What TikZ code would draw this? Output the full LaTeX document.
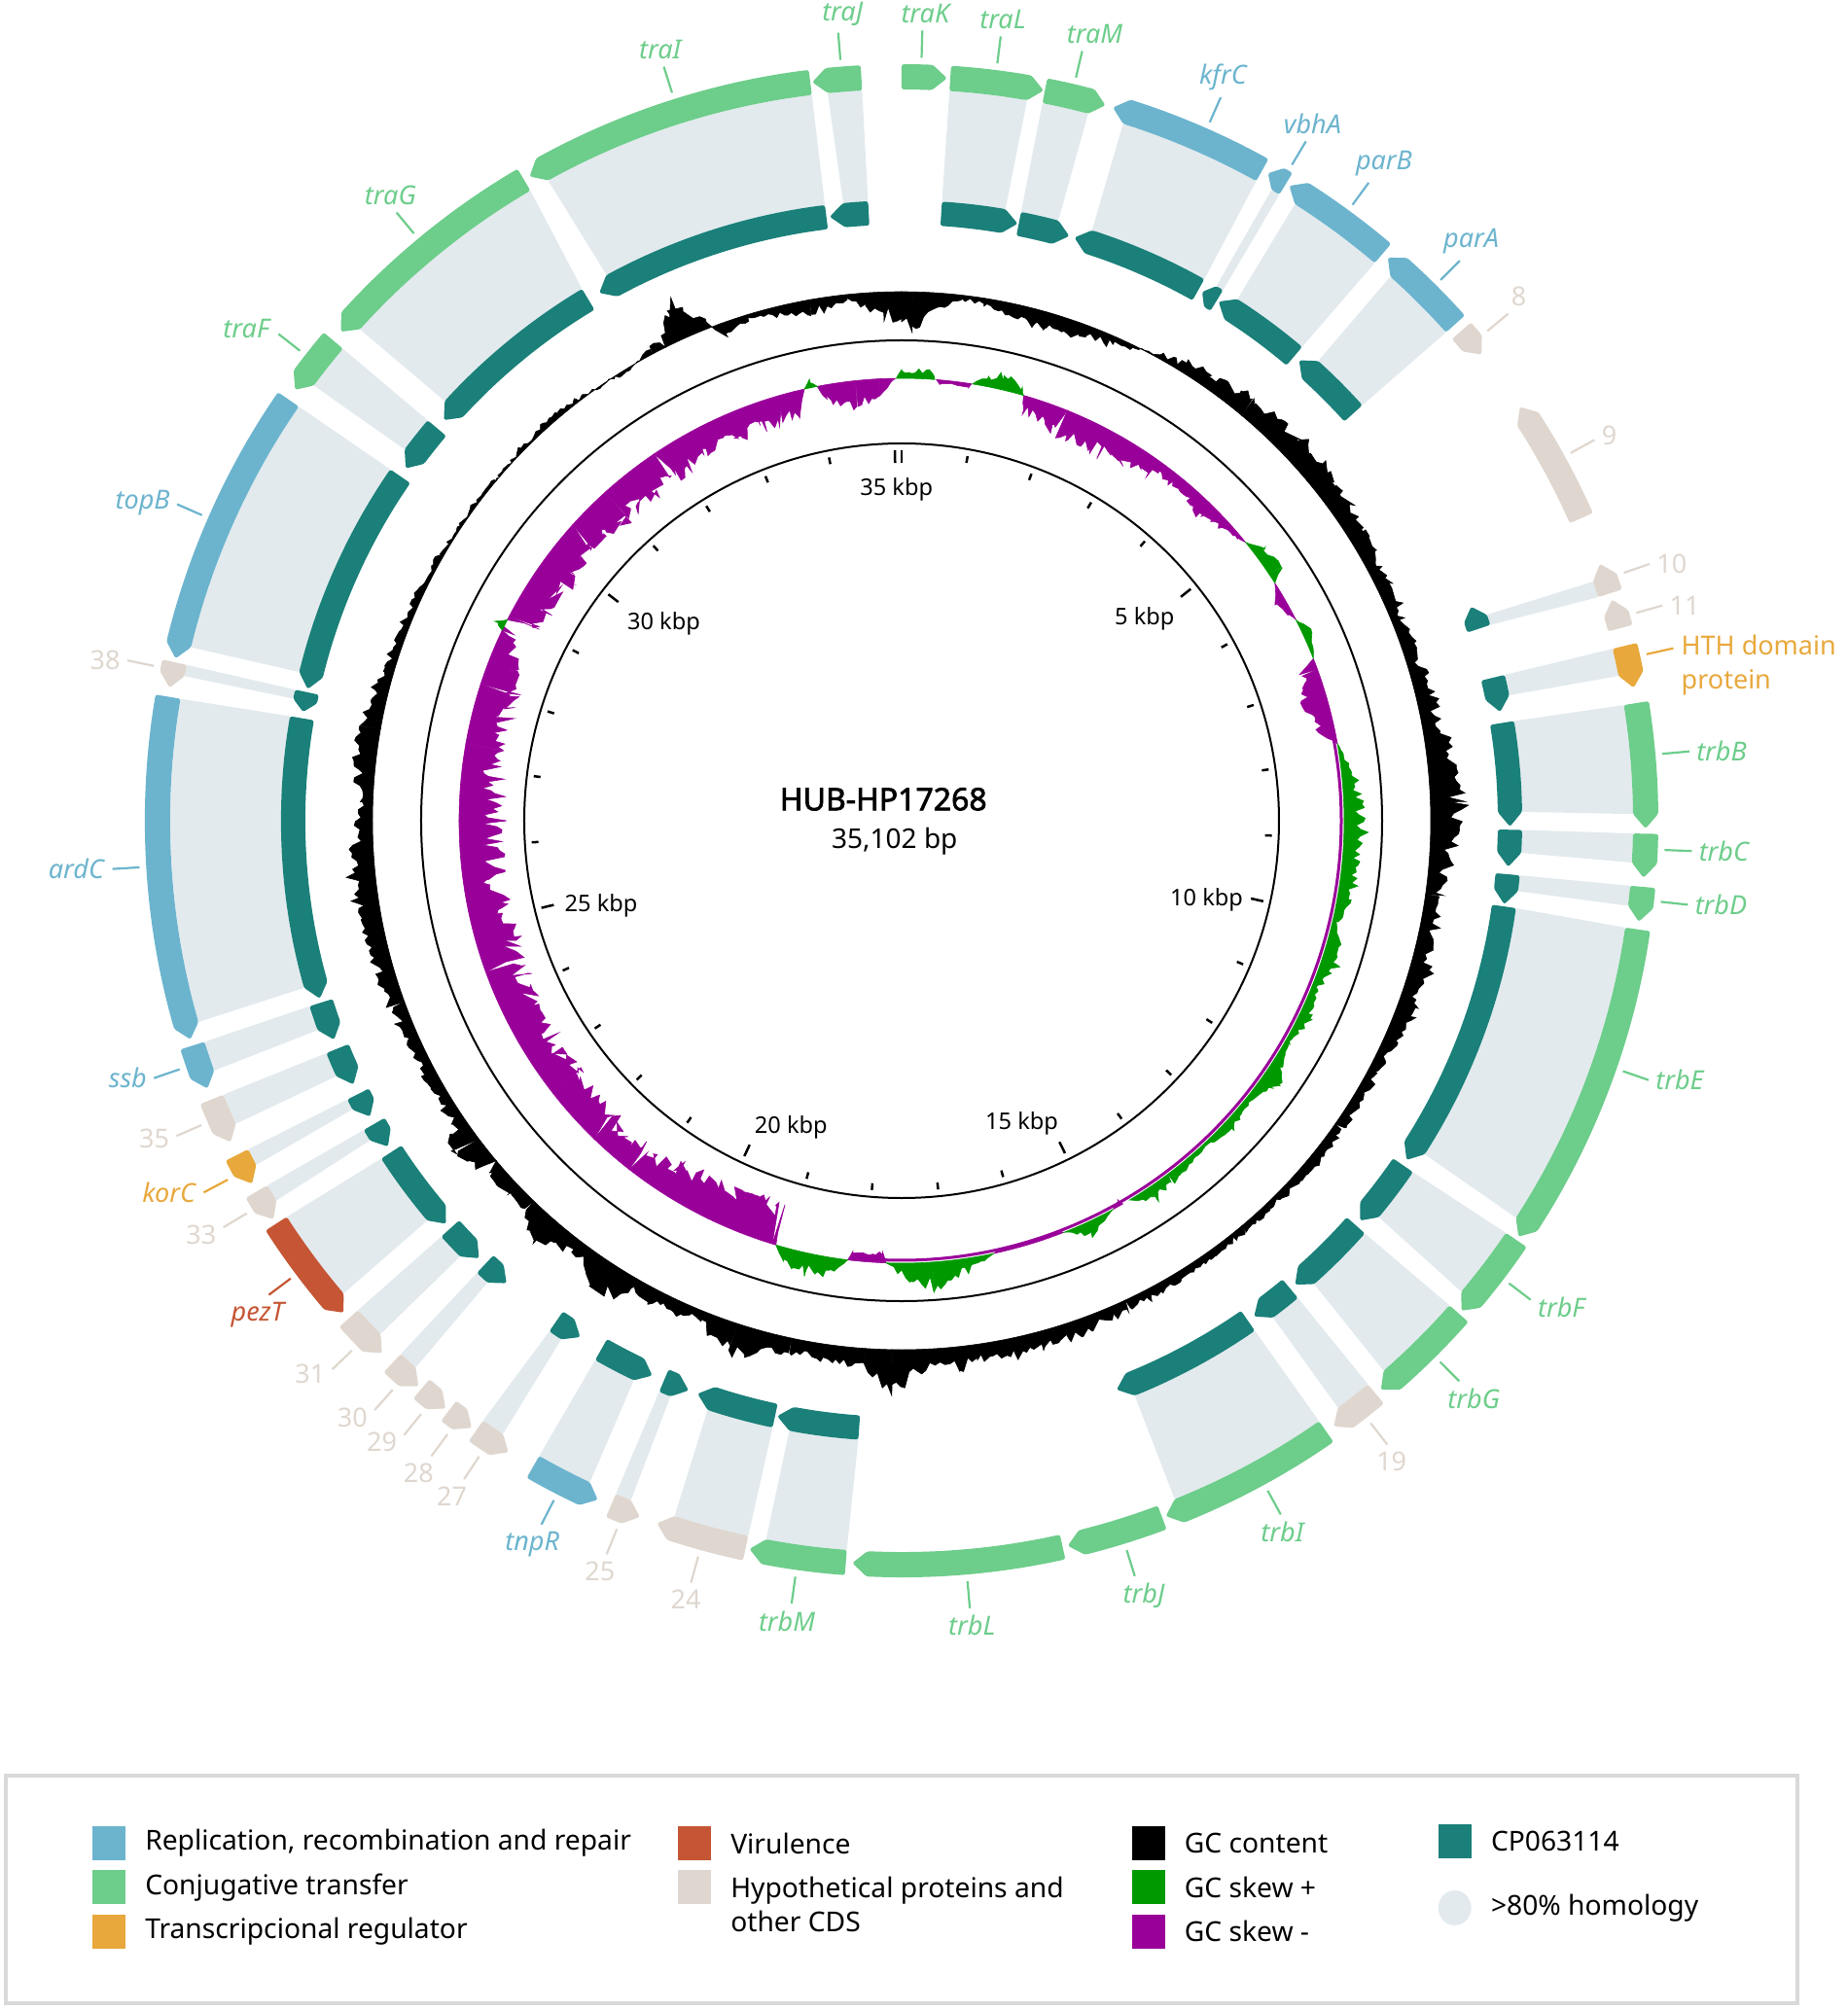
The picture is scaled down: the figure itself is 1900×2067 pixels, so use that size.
\documentclass[tikz,border=0pt]{standalone}
\usepackage{fontspec}
\setmainfont{Noto Sans}[AutoFakeBold=2.2]
\usetikzlibrary{positioning, shapes.geometric}

\definecolor{repblue}{RGB}{108,180,206}
\definecolor{conjgreen}{RGB}{109,205,139}
\definecolor{tregorange}{RGB}{232,168,60}
\definecolor{virred}{RGB}{197,85,52}
\definecolor{hypbeige}{RGB}{223,215,207}
\definecolor{cpteal}{RGB}{26,128,121}
\definecolor{homolgray}{RGB}{226,234,238}
\definecolor{skewpos}{RGB}{0,153,0}
\definecolor{skewneg}{RGB}{153,0,153}
\definecolor{legendframe}{RGB}{217,217,217}

\newcommand{\unitpt}{0.5pt}
% one arrow on a ring: colour, start, end, inner r, outer r, direction
\newcommand{\arcgene}[6]{%
  \pgfmathsetmacro\gmid{(#4+#5)/2}%
  \pgfmathsetmacro\ghead{min(15/\gmid*57.2958,(#3-#2)*0.55)}%
  \ifnum#6>0
    \pgfmathsetmacro\gcut{#3-\ghead}%
    \fill[#1, rounded corners=1.2pt] ({90-#2}:#5) arc[start angle={90-#2}, end angle={90-\gcut}, radius={#5*\unitpt}]
      -- ({90-#3}:\gmid) -- ({90-\gcut}:#4) arc[start angle={90-\gcut}, end angle={90-#2}, radius={#4*\unitpt}] -- cycle;
  \else
    \pgfmathsetmacro\gcut{#2+\ghead}%
    \fill[#1, rounded corners=1.2pt] ({90-#2}:\gmid) -- ({90-\gcut}:#5) arc[start angle={90-\gcut}, end angle={90-#3}, radius={#5*\unitpt}]
      -- ({90-#3}:#4) arc[start angle={90-#3}, end angle={90-\gcut}, radius={#4*\unitpt}] -- cycle;
  \fi}
\newcommand{\gene}[4]{\arcgene{#1}{#2}{#3}{752}{778}{#4}}
\newcommand{\cpgene}[3]{\arcgene{cpteal}{#1}{#2}{613}{638}{#3}}
\newcommand{\ribbon}[4]{%
  \fill[homolgray] ({90-#1}:638) -- ({90-#3}:752) arc[start angle={90-#3}, end angle={90-#4}, radius={752*\unitpt}]
    -- ({90-#2}:638) arc[start angle={90-#2}, end angle={90-#1}, radius={638*\unitpt}] -- cycle;}
% label: colour, name, angle, anchor, text
\newcommand{\glabel}[5]{%
  \coordinate (#2-in) at ({90-#3}:785);
  \coordinate (#2-out) at ({90-#3}:813);
  \draw[#1, leader] (#2-in) -- (#2-out);
  \node[#1, lbl, anchor=#4] (#2) at (#2-out) {#5};}
% GC tracks: one piece between two key points a/va and b/vb
\def\gcmul{0.72}\def\gcvar{0.28}\def\gcadd{0}
\newcommand{\gcsegx}[6]{%
  \pgfmathtruncatemacro\gzero{((#2)==0)*((#4)==0)}%
  \ifnum\gzero=0
    \pgfmathtruncatemacro\gns{max(3,((#3)-(#1))*2.5)}%
    \filldraw[#6, line width=0.3pt] ({90-(#1)}:#5) -- plot[domain=#1:#3, samples=\gns, variable=\gx]
      ({90-\gx}:{#5+((#2)+((#4)-(#2))*(\gx-(#1))/((#3)-(#1)))*(\gcmul+\gcvar*(2*rnd-1))+\gcadd*(2*rnd-1)})
      -- ({90-(#3)}:#5) arc[start angle={90-(#3)}, end angle={90-(#1)}, radius={#5*\unitpt}] -- cycle;
  \fi}
\newcommand{\gcchain}[3]{%
  \global\let\gprev\empty
  \foreach \ga/\gv in {#3}{%
    \ifx\gprev\empty\else
      \expandafter\gcsegx\gprev{\ga}{\gv}{#1}{#2}%
    \fi
    \xdef\gprev{{\ga}{\gv}}%
  }}

\begin{document}
\begin{tikzpicture}[x=0.5pt, y=0.5pt,
  tick/.style={line width=1.25pt},
  leader/.style={line width=1.1pt},
  lbl/.style={inner sep=3.5pt, font=\fontsize{13.5}{16}\selectfont},
  kbp/.style={inner sep=0pt, font=\fontsize{11.8}{14}\selectfont},
  swatch/.style={minimum width=17pt, minimum height=17.5pt, inner sep=0pt},
  legtext/.style={inner sep=0pt, align=left, font=\fontsize{14.1}{17.5}\selectfont}]

\useasboundingbox (-927,844) rectangle (973,-1223);

% homology to CP063114
\ribbon{331.6}{352.9}{331.1}{352.95}
\ribbon{354.6}{356.9}{354.2}{356.9}
\ribbon{3.73}{9.63}{3.75}{9.88}
\ribbon{11.1}{14.63}{11.1}{14.78}
\ribbon{17.87}{29.2}{17.62}{29.0}
\ribbon{30.48}{31.2}{30.38}{31.1}
\ribbon{32.77}{40.2}{32.52}{40.3}
\ribbon{42.17}{47.95}{41.92}{48.1}
\ribbon{70.61}{71.6}{70.92}{72.2}
\ribbon{76.4}{78.33}{76.4}{78.58}
\ribbon{80.75}{89.18}{80.9}{89.48}
\ribbon{90.85}{92.98}{91.0}{93.28}
\ribbon{95.05}{96.53}{95.1}{96.68}
\ribbon{98.1}{122.53}{98.4}{122.88}
\ribbon{124.5}{129.73}{124.3}{130.08}
\ribbon{131.7}{138.33}{131.5}{138.78}
\ribbon{140.3}{143.23}{140.4}{143.38}
\ribbon{145.3}{157.93}{145.2}{158.08}
\ribbon{184.0}{190.43}{184.3}{190.68}
\ribbon{192.0}{198.23}{192.1}{198.08}
\ribbon{201.87}{203.0}{201.72}{203.0}
\ribbon{205.57}{209.6}{205.22}{209.7}
\ribbon{213.27}{214.6}{213.02}{214.9}
\ribbon{221.87}{223.2}{221.62}{223.2}
\ribbon{225.37}{227.9}{225.42}{228.0}
\ribbon{229.87}{237.0}{229.72}{237.2}
\ribbon{238.97}{240.1}{238.72}{240.1}
\ribbon{242.27}{243.3}{241.92}{243.3}
\ribbon{245.67}{248.0}{245.52}{248.0}
\ribbon{250.27}{252.6}{250.02}{252.4}
\ribbon{254.37}{279.7}{254.02}{279.6}
\ribbon{281.35}{282.2}{281.4}{282.3}
\ribbon{283.87}{304.5}{283.72}{304.5}
\ribbon{306.77}{310.2}{306.52}{310.2}
\ribbon{312.57}{329.0}{312.22}{329.5}

% CP063114 ring
\cpgene{330.2}{352.9}{-1}
\cpgene{353.2}{356.9}{-1}
\cpgene{3.73}{11.0}{1}
\cpgene{11.1}{16.0}{1}
\cpgene{16.5}{29.2}{-1}
\cpgene{29.6}{31.2}{-1}
\cpgene{31.4}{40.2}{-1}
\cpgene{40.8}{47.95}{-1}
\cpgene{69.4}{71.6}{-1}
\cpgene{76.4}{79.7}{1}
\cpgene{80.75}{90.55}{1}
\cpgene{90.85}{94.35}{1}
\cpgene{95.05}{97.9}{1}
\cpgene{98.1}{123.9}{1}
\cpgene{124.5}{131.1}{1}
\cpgene{131.7}{139.7}{1}
\cpgene{140.3}{144.6}{1}
\cpgene{145.3}{159.3}{1}
\cpgene{184.0}{191.8}{1}
\cpgene{192.0}{199.6}{1}
\cpgene{200.5}{203.0}{-1}
\cpgene{204.2}{209.6}{-1}
\cpgene{211.9}{214.6}{-1}
\cpgene{220.5}{223.2}{-1}
\cpgene{224.0}{227.9}{-1}
\cpgene{228.5}{237.0}{-1}
\cpgene{237.6}{240.1}{-1}
\cpgene{240.9}{243.3}{-1}
\cpgene{244.3}{248.0}{-1}
\cpgene{248.9}{252.6}{-1}
\cpgene{253.0}{279.7}{-1}
\cpgene{280.3}{282.2}{-1}
\cpgene{282.5}{304.5}{-1}
\cpgene{305.4}{310.2}{-1}
\cpgene{311.2}{329.0}{-1}

% HUB-HP17268 genes
\gene{conjgreen}{0.0}{3.5}{1}
\gene{conjgreen}{3.75}{11.0}{1}
\gene{conjgreen}{11.1}{15.9}{1}
\gene{repblue}{16.5}{29.0}{-1}
\gene{repblue}{29.5}{31.1}{-1}
\gene{repblue}{31.4}{40.3}{-1}
\gene{repblue}{40.8}{48.1}{-1}
\gene{hypbeige}{48.8}{51.2}{1}
\gene{hypbeige}{56.2}{66.0}{-1}
\gene{hypbeige}{69.8}{72.2}{-1}
\gene{hypbeige}{72.7}{75.0}{-1}
\gene{tregorange}{76.4}{79.7}{1}
\gene{conjgreen}{80.9}{90.6}{1}
\gene{conjgreen}{91.0}{94.4}{1}
\gene{conjgreen}{95.1}{97.8}{1}
\gene{conjgreen}{98.4}{124.0}{1}
\gene{conjgreen}{124.3}{131.2}{1}
\gene{conjgreen}{131.5}{139.9}{1}
\gene{hypbeige}{140.4}{144.5}{1}
\gene{conjgreen}{145.2}{159.2}{1}
\gene{conjgreen}{159.5}{167.1}{1}
\gene{conjgreen}{167.5}{183.8}{1}
\gene{conjgreen}{184.3}{191.8}{1}
\gene{hypbeige}{192.1}{199.2}{1}
\gene{hypbeige}{200.6}{203.0}{-1}
\gene{repblue}{204.1}{209.7}{-1}
\gene{hypbeige}{211.9}{214.9}{-1}
\gene{hypbeige}{215.3}{217.5}{-1}
\gene{hypbeige}{217.8}{220.2}{-1}
\gene{hypbeige}{220.5}{223.2}{-1}
\gene{hypbeige}{224.3}{228.0}{-1}
\gene{virred}{228.6}{237.2}{-1}
\gene{hypbeige}{237.6}{240.1}{-1}
\gene{tregorange}{240.8}{243.3}{-1}
\gene{hypbeige}{244.4}{248.0}{-1}
\gene{repblue}{248.9}{252.4}{-1}
\gene{repblue}{252.9}{279.6}{-1}
\gene{hypbeige}{280.3}{282.3}{-1}
\gene{repblue}{282.6}{304.5}{-1}
\gene{conjgreen}{305.4}{310.2}{-1}
\gene{conjgreen}{311.1}{329.5}{-1}
\gene{conjgreen}{330.0}{352.95}{-1}
\gene{conjgreen}{353.1}{356.9}{-1}

% GC content
\pgfmathsetseed{4711}
\def\gcmul{0.75}\def\gcvar{0.25}\def\gcadd{3}
\gcchain{544}{black}{0/-38, 1.2/-42, 6.5/-5, 9/-8, 16/-24, 24/-10, 32/14, 40/26, 50/32, 58/22, 68/16, 78/22, 88/38, 98/20, 110/24, 118/12, 125/14, 140/8, 155/12, 165/24, 172/16, 174/30, 177/18, 181/52, 184/22, 192/18, 198/38, 202/14, 210/18, 213/44, 216/16, 219/22, 221/40, 224/14, 230/20, 233/38, 236/16, 250/18, 262/30, 272/18, 280/28, 286/14, 300/6, 310/2, 320/8, 329/-4, 332/10, 333.5/14, 336/48, 338.5/12, 340/-20, 343/-6, 350/-18, 354/-10, 356/-20, 358/-30, 360/-38}
\draw[line width=1pt] (0,0) circle[radius={494*\unitpt}];

% GC skew
\draw[skewneg, line width=1.5pt] ({90-78}:452) arc[start angle=12, end angle=-94, radius={452*\unitpt}];
\def\gcmul{0.72}\def\gcvar{0.28}\def\gcadd{0}
\gcchain{455}{skewneg}{4.5/0, 5/-5, 8.8/-5, 9.1/0, 16/0, 16.5/-20, 22/-34, 30/-32, 35/-24, 36.5/-14, 44/-22, 50/-6, 51/0, 57.5/0, 60/-12, 62/-6, 63/0, 68.5/0, 70/-22, 74/-32, 78/-20, 80/0, 150/0, 150.5/-8, 151.5/0, 158.5/0, 159/-4, 167/-4, 168/0, 182/0, 182.5/-12, 186.5/-12, 187/0, 196.5/0, 197/-46, 206/-48, 212/-42, 218/-34, 224/-38, 232/-44, 240/-40, 250/-48, 262/-44, 270/-50, 280/-44, 288/-46, 293/-30, 295.5/-14, 296/0, 297/0, 297.5/-38, 305/-44, 312/-40, 318/-46, 326/-40, 333/-36, 340/-34, 346/-30, 347.3/0, 349/0, 350/-22, 354/-32, 357/-20, 359.2/0}
\gcchain{455}{skewpos}{0/10, 4/10, 4.3/0, 9.2/0, 11/14, 13/20, 15.5/10, 16/0, 51/0, 53/14, 56/20, 57.5/0, 63/0, 65/14, 68.5/0, 80/0, 84/16, 91/28, 96/18, 100/22, 103/8, 108/22, 112/8, 116/16, 120/6, 125/22, 129/6, 133/14, 137/4, 143/12, 146/18, 149/0, 151.5/0, 155/18, 158.5/0, 168/0, 172/18, 176/32, 179/22, 182/0, 187/0, 189/22, 192/26, 195/18, 196.5/0, 295.5/0, 296.2/12, 297/0, 347.3/0, 348.2/9, 349/0, 359.3/0, 360/10}

% scale
\draw[line width=1pt] (0,0) circle[radius={388*\unitpt}];
\foreach \k in {0,...,35}{
  \pgfmathsetmacro\ta{90-\k*10.25583}
  \pgfmathtruncatemacro\major{mod(\k,5)==0}
  \ifnum\major=1 \draw[tick] (\ta:368) -- (\ta:381); \else \draw[tick] (\ta:374) -- (\ta:381); \fi
}
\foreach \k/\lx/\ly in {35/-5.3/340.7, 5/249.8/207.5, 10/313.6/-81.3, 15/123.5/-311.5, 20/-113.7/-314.9, 25/-308.9/-87.6, 30/-244.5/202.3}
  \node[kbp] (kbp\k) at (\lx,\ly) {\k\ kbp};

\node[font=\bfseries\fontsize{16}{19}\selectfont] (title) at (-18.7,22.1) {HUB-HP17268};
\node[font=\fontsize{14}{17}\selectfont] (size) at (-7.2,-21) {35,102 bp};

% labels
\glabel{conjgreen}{traI}{342.5}{280}{\textit{traI}}
\glabel{conjgreen}{traJ}{355.4}{257}{\textit{traJ}}
\glabel{conjgreen}{traK}{1.5}{256}{\textit{traK}}
\glabel{conjgreen}{traL}{7.2}{263}{\textit{traL}}
\glabel{conjgreen}{traM}{13.2}{233}{\textit{traM}}
\glabel{repblue}{kfrC}{23.8}{262}{\textit{kfrC}}
\glabel{repblue}{vbhA}{30.75}{249}{\textit{vbhA}}
\glabel{repblue}{parB}{36.2}{232}{\textit{parB}}
\glabel{repblue}{parA}{44.9}{240}{\textit{parA}}
\glabel{hypbeige}{g8}{50.1}{238}{8}
\glabel{hypbeige}{g9}{61.2}{197}{9}
\glabel{hypbeige}{g10}{71.05}{180}{10}
\glabel{hypbeige}{g11}{74.2}{180}{11}
\coordinate (hth-in) at ({90-77.4}:785);
\coordinate (hth-out) at ({90-77.4}:813);
\draw[tregorange, leader] (hth-in) -- (hth-out);
\node[tregorange, legtext, font=\fontsize{13.5}{17.5}\selectfont, anchor=west] (hth) at (801.3,159.8) {HTH domain\\protein};
\glabel{conjgreen}{trbB}{84.97}{180}{\textit{trbB}}
\glabel{conjgreen}{trbC}{92.2}{180}{\textit{trbC}}
\glabel{conjgreen}{trbD}{96.1}{180}{\textit{trbD}}
\glabel{conjgreen}{trbE}{109.15}{180}{\textit{trbE}}
\glabel{conjgreen}{trbF}{127.3}{166}{\textit{trbF}}
\glabel{conjgreen}{trbG}{135.15}{130}{\textit{trbG}}
\glabel{hypbeige}{g19}{142.1}{104}{19}
\glabel{conjgreen}{trbI}{151.35}{98}{\textit{trbI}}
\glabel{conjgreen}{trbJ}{162.85}{115}{\textit{trbJ}}
\glabel{conjgreen}{trbL}{175.05}{97}{\textit{trbL}}
\glabel{conjgreen}{trbM}{188.0}{75}{\textit{trbM}}
\glabel{hypbeige}{g24}{195.45}{73}{24}
\glabel{hypbeige}{g25}{201.9}{68}{25}
\glabel{repblue}{tnpR}{207.1}{65}{\textit{tnpR}}
\glabel{hypbeige}{g27}{213.6}{54}{27}
\glabel{hypbeige}{g28}{216.5}{53}{28}
\glabel{hypbeige}{g29}{219.0}{18}{29}
\glabel{hypbeige}{g30}{221.8}{18}{30}
\glabel{hypbeige}{g31}{226.05}{12}{31}
\glabel{virred}{pezT}{233.15}{63}{\textit{pezT}}
\glabel{hypbeige}{g33}{239.05}{18}{33}
\glabel{tregorange}{korC}{241.95}{0}{\textit{korC}}
\glabel{hypbeige}{g35}{246.5}{7}{35}
\glabel{repblue}{ssb}{251.0}{0}{\textit{ssb}}
\glabel{repblue}{ardC}{266.5}{0}{\textit{ardC}}
\glabel{hypbeige}{g38}{281.7}{0}{38}
\glabel{repblue}{topB}{293.6}{358}{\textit{topB}}
\glabel{conjgreen}{traF}{308.0}{350}{\textit{traF}}
\glabel{conjgreen}{traG}{320.3}{290}{\textit{traG}}

% legend
\draw[legendframe, line width=2pt] (-921,-982) rectangle (921,-1216);
\node[swatch, fill=repblue] (swrep) at (-815,-1051.5) {};
\node[swatch, fill=conjgreen, below=4.75pt of swrep] (swconj) {};
\node[swatch, fill=tregorange, below=4.75pt of swconj] (swtreg) {};
\node[legtext, right=9.75pt of swrep] (txrep) {Replication, recombination and repair};
\node[legtext, right=9.75pt of swconj] (txconj) {Conjugative transfer};
\node[legtext, right=9.75pt of swtreg] (txtreg) {Transcripcional regulator};
\node[swatch, fill=virred] (swvir) at (-213,-1051.5) {};
\node[swatch, fill=hypbeige, below=4.75pt of swvir] (swhyp) {};
\node[legtext, right=9.75pt of swvir] (txvir) {Virulence};
\node[legtext, right=9.75pt of swhyp, yshift=-8.75pt] (txhyp) {Hypothetical proteins and\\other CDS};
\node[swatch, fill=black] (swgc) at (253.6,-1051.5) {};
\node[swatch, fill=skewpos, below=4.75pt of swgc] (swpos) {};
\node[swatch, fill=skewneg, below=4.75pt of swpos] (swneg) {};
\node[legtext, right=9.75pt of swgc] (txgc) {GC content};
\node[legtext, right=9.75pt of swpos] (txpos) {GC skew +};
\node[legtext, right=9.75pt of swneg] (txneg) {GC skew -};
\node[swatch, fill=cpteal] (swcp) at (568.7,-1049.5) {};
\node[ellipse, fill=homolgray, minimum width=17pt, minimum height=18pt, inner sep=0pt] (swhom) at (568.7,-1118) {};
\node[legtext, right=9.75pt of swcp] (txcp) {CP063114};
\node[legtext, right=9.75pt of swhom] (txhom) {>80\% homology};
\end{tikzpicture}
\end{document}
